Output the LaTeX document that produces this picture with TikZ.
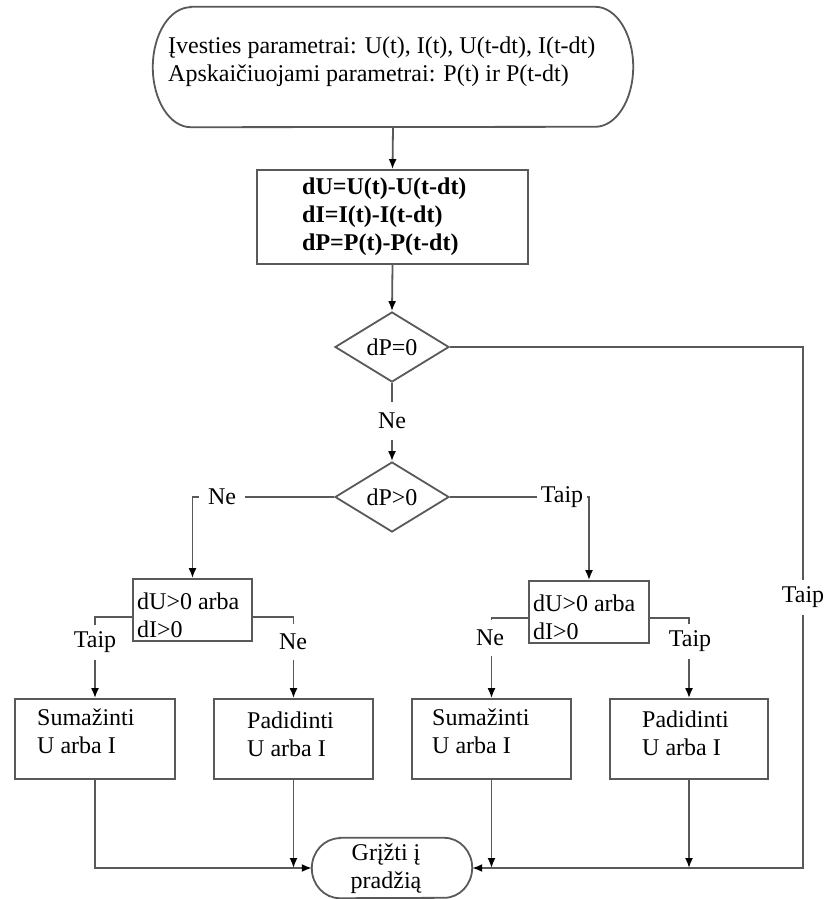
\documentclass[tikz,border=0pt]{standalone}
\usepackage{fontspec}
\setmainfont{Liberation Serif}
\usetikzlibrary{shapes.geometric,arrows.meta}
\newcommand\chartfont{\fontsize{24}{28}\selectfont}
\begin{document}
\begin{tikzpicture}[x=1pt,y=1pt,
  every node/.style={font=\chartfont},
  line/.style={draw=black!65, line width=1.8pt},
  arr/.style={line, -{Latex[length=10pt,width=8pt,color=black]}},
  box/.style={line, shape=rectangle, inner sep=0pt},
  dia/.style={line, shape=diamond, inner sep=0pt, minimum width=114pt, minimum height=70pt},
  txt/.style={inner sep=0pt, align=left, anchor=north west},
  lbl/.style={fill=white, inner xsep=4pt, inner ysep=7pt}
]
\useasboundingbox (0,0) rectangle (827,-899);
\fill[white] (0,0) rectangle (827,-899);

% start terminator with elliptic ends
\node[shape=rectangle, inner sep=0pt, minimum width=480pt, minimum height=120pt] (start) at (393,-67) {};
\draw[line] ([xshift=38pt]start.north west) -- ([xshift=-38pt]start.north east)
  arc[start angle=90, end angle=-90, x radius=38, y radius=60]
  -- ([xshift=38pt]start.south west)
  arc[start angle=270, end angle=90, x radius=38, y radius=60] -- cycle;
\node[txt] (startText) at (168,-37)
  {Įvesties parametrai: U(t), I(t), U(t-dt), I(t-dt)\\Apskaičiuojami parametrai: P(t) ir P(t-dt)};

% differences
\node[box, minimum width=271pt, minimum height=94pt] (calc) at (392.5,-217) {};
\node[txt, font=\chartfont\bfseries] (calcText) at (302,-178)
  {dU=U(t)-U(t-dt)\\dI=I(t)-I(t-dt)\\dP=P(t)-P(t-dt)};

% decisions
\node[dia] (d1) at (392,-347) {dP=0};
\node[dia] (d2) at (392,-497) {dP>0};

\node[box, minimum width=119pt, minimum height=62pt] (q1) at (192.5,-610) {};
\node[txt] (q1Text) at (137,-593) {dU>0 arba\\dI>0};
\node[box, minimum width=120pt, minimum height=62pt] (q2) at (589,-612) {};
\node[txt] (q2Text) at (533,-595) {dU>0 arba\\dI>0};

% actions
\node[box, minimum width=160pt, minimum height=80pt] (A) at (95,-739) {};
\node[box, minimum width=159pt, minimum height=80pt] (B) at (293.5,-739) {};
\node[box, minimum width=159pt, minimum height=80pt] (C) at (491.5,-739) {};
\node[box, minimum width=158pt, minimum height=80pt] (D) at (689,-739) {};
\node[txt] (aText) at (37,-709) {Sumažinti\\U arba I};
\node[txt] (bText) at (247,-712) {Padidinti\\U arba I};
\node[txt] (cText) at (432,-709) {Sumažinti\\U arba I};
\node[txt] (dText) at (642,-711) {Padidinti\\U arba I};

% end terminator
\node[shape=rectangle, inner sep=0pt, minimum width=160pt, minimum height=60pt] (finish) at (392,-868) {};
\draw[line] ([xshift=28pt]finish.north west) -- ([xshift=-28pt]finish.north east)
  arc[start angle=90, end angle=-90, x radius=28, y radius=30]
  -- ([xshift=28pt]finish.south west)
  arc[start angle=270, end angle=90, x radius=28, y radius=30] -- cycle;
\node[inner sep=0pt, align=center] (finishText) at (386,-869) {Grįžti į\\pradžią};

% connectors
\coordinate (loopR) at (803,-868);
\draw[arr] (start.south) -- (calc.north);
\draw[arr] (calc.south) -- (d1.north);
\draw[arr] (d1.south) -- (d2.north);
\draw[arr] (d1.east) -| (loopR) -- (finish.east);
\draw[arr] (d2.west) -| (q1.north);
\draw[arr] (d2.east) -| (q2.north);
\draw[arr] ([yshift=-7pt]q1.west) -| (A.north);
\draw[arr] ([yshift=-7pt]q1.east) -| (B.north);
\draw[arr] ([yshift=-6pt]q2.west) -| (C.north);
\draw[arr] ([yshift=-6pt]q2.east) -| (D.north);
\draw[arr] (A.south) |- (finish.west);
\draw[arr] (B.south) -- (B.south |- finish.west);
\draw[arr] (C.south) -- (C.south |- finish.east);
\draw[arr] (D.south) -- (D.south |- finish.east);

% branch labels
\node[lbl, inner ysep=11pt] (ne1) at (392,-421) {Ne};
\node[lbl, inner xsep=9pt] (ne2) at (222,-497) {Ne};
\node[lbl] (taip1) at (562,-497) {Taip};
\node[lbl] (taip0) at (803,-597) {Taip};
\node[lbl] (taip2) at (95,-642) {Taip};
\node[lbl, inner ysep=10pt] (ne3) at (293,-642) {Ne};
\node[lbl, inner ysep=10pt] (ne4) at (490,-638) {Ne};
\node[lbl] (taip3) at (690,-641) {Taip};
\end{tikzpicture}
\end{document}
